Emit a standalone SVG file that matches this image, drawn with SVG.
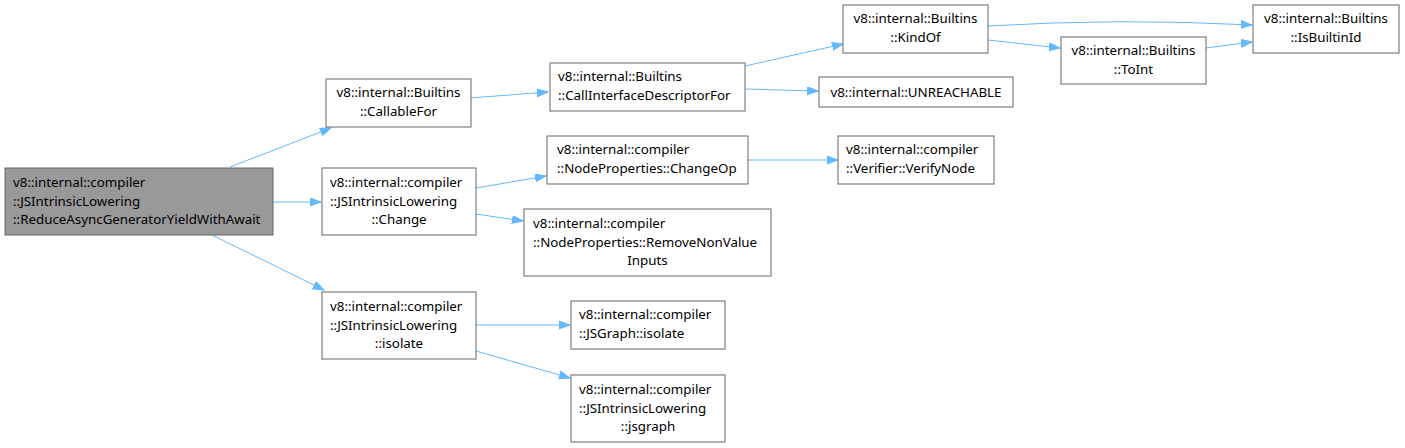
<svg xmlns="http://www.w3.org/2000/svg" width="1405" height="448" viewBox="0 0 1405 448">
<style>
.n rect{fill:#fff;stroke:#666;stroke-width:1}
.root rect{fill:#999;stroke:#666}
text{font-family:"Noto Sans","Open Sans","DejaVu Sans",sans-serif;font-size:13.33px;fill:#000}
.c{text-anchor:middle}
#edges path{fill:none;stroke:#63b8ff;stroke-width:1;marker-end:url(#ah)}
</style>
<defs>
<marker id="ah" markerUnits="userSpaceOnUse" markerWidth="12" markerHeight="9" refX="11" refY="4" orient="auto">
<path d="M0,0 L11,4 L0,8 z" fill="#63b8ff" stroke="#63b8ff" stroke-width="1"/>
</marker>
</defs>
<rect width="1405" height="448" fill="#fff"/>
<g id="edges">
<path d="M230,167 L331,128"/>
<path d="M273,202 L321,202"/>
<path d="M212,235 L324,290"/>
<path d="M470,98 L548,92"/>
<path d="M745,66 L843,44"/>
<path d="M745,89 L818,91"/>
<path d="M988,26 Q1120,18 1252,25"/>
<path d="M988,40 L1060,48"/>
<path d="M1206,48 L1252,42"/>
<path d="M476,188 L546,176"/>
<path d="M476,214 L523,221"/>
<path d="M748,160 L838,160"/>
<path d="M476,325 L570,325"/>
<path d="M476,351 L570,378"/>
</g>
<g id="root" class="n root"><rect x="5" y="168" width="268" height="67"/>
<text x="13" y="187">v8::internal::compiler</text>
<text x="13" y="205.5">::JSIntrinsicLowering</text>
<text x="13" y="224">::ReduceAsyncGeneratorYieldWithAwait</text></g>
<g id="callableFor" class="n"><rect x="326" y="79" width="145" height="48"/>
<text class="c" x="398.5" y="97">v8::internal::Builtins</text>
<text class="c" x="398.5" y="115.5">::CallableFor</text></g>
<g id="callIfDesc" class="n"><rect x="550" y="63" width="195" height="48"/>
<text x="558" y="81">v8::internal::Builtins</text>
<text x="558" y="99.5">::CallInterfaceDescriptorFor</text></g>
<g id="kindOf" class="n"><rect x="843" y="5" width="145" height="48"/>
<text class="c" x="915.5" y="23">v8::internal::Builtins</text>
<text class="c" x="915.5" y="41.5">::KindOf</text></g>
<g id="toInt" class="n"><rect x="1061" y="37" width="145" height="47"/>
<text class="c" x="1133.5" y="55">v8::internal::Builtins</text>
<text class="c" x="1133.5" y="73.5">::ToInt</text></g>
<g id="isBuiltinId" class="n"><rect x="1253" y="5" width="146" height="48"/>
<text class="c" x="1326" y="23">v8::internal::Builtins</text>
<text class="c" x="1326" y="41.5">::IsBuiltinId</text></g>
<g id="unreachable" class="n"><rect x="819" y="77" width="194" height="30"/>
<text class="c" x="916" y="96.5">v8::internal::UNREACHABLE</text></g>
<g id="change" class="n"><rect x="322" y="168" width="154" height="67"/>
<text x="330" y="187">v8::internal::compiler</text>
<text x="330" y="205.5">::JSIntrinsicLowering</text>
<text class="c" x="399" y="224">::Change</text></g>
<g id="changeOp" class="n"><rect x="547" y="136" width="201" height="48"/>
<text x="557" y="154">v8::internal::compiler</text>
<text x="557" y="172.5">::NodeProperties::ChangeOp</text></g>
<g id="removeNonValue" class="n"><rect x="524" y="209" width="247" height="67"/>
<text x="533" y="228">v8::internal::compiler</text>
<text x="533" y="246.5">::NodeProperties::RemoveNonValue</text>
<text class="c" x="647.5" y="265">Inputs</text></g>
<g id="verifyNode" class="n"><rect x="838" y="136" width="156" height="48"/>
<text x="846" y="154">v8::internal::compiler</text>
<text x="846" y="172.5">::Verifier::VerifyNode</text></g>
<g id="isolate" class="n"><rect x="322" y="292" width="154" height="67"/>
<text x="330" y="311">v8::internal::compiler</text>
<text x="330" y="329.5">::JSIntrinsicLowering</text>
<text class="c" x="399" y="348">::isolate</text></g>
<g id="jsgraphIsolate" class="n"><rect x="571" y="301" width="154" height="48"/>
<text x="579" y="319">v8::internal::compiler</text>
<text x="579" y="337.5">::JSGraph::isolate</text></g>
<g id="jsgraph" class="n"><rect x="571" y="375" width="154" height="67"/>
<text x="579" y="394">v8::internal::compiler</text>
<text x="579" y="412.5">::JSIntrinsicLowering</text>
<text class="c" x="648" y="431">::jsgraph</text></g>
</svg>
